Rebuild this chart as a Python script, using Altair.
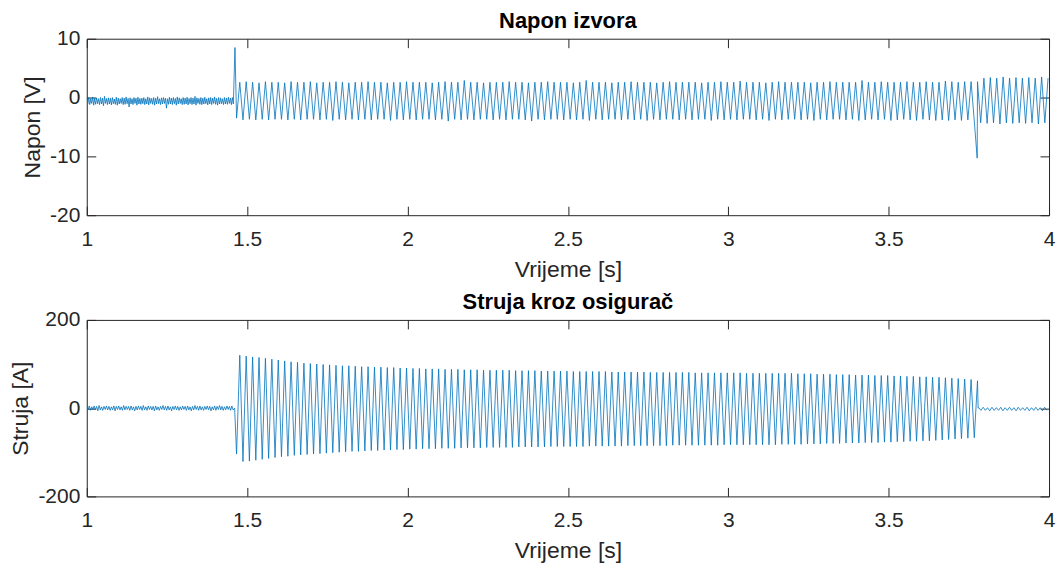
import altair as alt
import pandas as pd

# ---------------- values ----------------
T_START = 1.0
T_END = 4.0
T_ON = 1.462          # fault / switch-on instant
T_CUT = 3.777         # fuse interrupts
PERIOD = 0.02         # 50 Hz

# Source voltage: noise before T_ON (V), alternating high / low samples
v_noise_hi = [-0.1, 0.0, -0.2, 0.1, -0.15, -0.05, -0.2, 0.0, -0.1, 0.2, -0.15, -0.05, -0.1, 0.0, -0.25,
              0.05, -0.1, -0.2, 0.0, -0.1, 0.1, -0.15, -0.05, -0.2, 0.0, -0.1, 0.05, -0.15, -0.1, 0.0,
              -0.2, 0.1, -0.05, -0.15, 0.0, -0.1, 0.15, -0.2, -0.05, 0.0, -0.1, -0.2, 0.05, -0.1, 0.0,
              -0.15, 0.1, -0.05, -0.2, 0.0, -0.1, 0.05, -0.15, 0.0, -0.1, 0.2, -0.05, -0.15, 0.0, -0.1,
              0.05, -0.2, -0.05, 0.0, -0.1, 0.1, -0.15, 0.0, -0.05, -0.2, 0.0, -0.1, 0.05, -0.1, 0.0]
v_noise_lo = [-1.1, -1.2, -1.0, -1.3, -1.15, -1.05, -1.2, -1.1, -1.4, -1.0, -1.2, -1.1, -1.25, -1.05, -1.15,
              -1.3, -1.1, -1.0, -1.2, -1.15, -1.05, -1.6, -1.1, -1.2, -1.0, -1.3, -1.1, -1.15, -1.05, -1.2,
              -1.1, -1.25, -1.0, -1.15, -1.3, -1.1, -1.05, -1.2, -1.1, -1.0, -1.8, -1.15, -1.1, -1.2, -1.05,
              -1.3, -1.1, -1.0, -1.2, -1.15, -1.1, -1.25, -1.05, -1.2, -1.1, -1.3, -1.0, -1.15, -1.2, -1.1,
              -1.05, -1.25, -1.1, -1.2, -1.0, -1.15, -1.3, -1.1, -1.05, -1.2, -1.1, -1.15, -1.0, -1.2, -1.1]
v_spike_on = 8.5
v_spike_cut = -10.3

# Source voltage: per-cycle peaks and troughs (V)
v_peaks = [2.6, 2.7, 2.6, 2.5, 2.7, 2.6, 2.6, 2.5, 2.7, 2.6, 2.6, 2.7, 2.5, 2.6, 2.6, 2.7, 2.6, 2.5, 2.6, 2.6,
           2.7, 2.6, 2.6, 2.5, 2.6, 2.6, 2.7, 2.6, 2.6, 2.6, 2.5, 2.6, 2.7, 2.6, 2.6, 2.9, 2.6, 2.6, 2.5, 2.6,
           2.6, 2.6, 2.7, 2.6, 2.6, 2.5, 2.6, 2.6, 2.7, 2.6, 2.6, 2.6, 2.5, 2.6, 2.9, 2.6, 2.6, 2.6, 2.5, 2.6,
           2.6, 2.7, 2.6, 2.6, 2.6, 2.5, 2.6, 2.7, 2.6, 2.6, 2.6, 2.6, 2.5, 2.6, 2.6, 2.7, 2.6, 2.6, 2.8, 2.6,
           2.6, 2.6, 2.5, 2.6, 2.7, 2.6, 2.6, 2.6, 2.6, 2.5, 2.6, 2.6, 2.7, 2.6, 2.6, 2.6, 2.6, 2.9, 2.6, 2.6,
           2.7, 2.6, 2.6, 2.6, 2.7, 2.6, 2.6, 2.7, 2.6, 2.6, 2.8, 2.7, 2.6, 2.7, 2.7, 2.7,
           3.3, 3.4, 3.3, 3.5, 3.3, 3.4, 3.3, 3.4, 3.3, 3.5, 3.3]
v_troughs = [-3.5, -3.8, -3.7, -3.8, -3.7, -3.8, -3.7, -3.7, -3.8, -3.7, -3.8, -3.7, -3.7, -3.8, -3.7, -3.9, -3.7, -3.8, -3.7, -3.8,
             -3.7, -3.8, -3.7, -3.7, -3.9, -3.7, -3.8, -3.7, -3.8, -3.7, -3.7, -3.8, -3.7, -4.0, -3.7, -3.8, -3.7, -3.8, -3.7, -3.7,
             -3.8, -3.7, -3.8, -3.7, -3.7, -3.8, -4.0, -3.7, -3.8, -3.7, -3.7, -3.8, -3.7, -3.8, -3.7, -3.9, -3.7, -3.8, -3.7, -3.7,
             -3.8, -3.7, -3.8, -3.7, -3.9, -3.7, -3.8, -3.7, -3.7, -3.8, -3.7, -3.8, -3.7, -3.7, -3.9, -3.7, -3.8, -3.7, -3.8, -3.7,
             -3.7, -3.8, -3.7, -3.9, -3.7, -3.8, -3.7, -3.7, -3.8, -3.7, -3.9, -3.7, -3.8, -3.7, -3.7, -3.8, -3.7, -3.9, -3.8, -3.7,
             -3.8, -3.7, -3.9, -3.8, -3.7, -3.8, -3.9, -3.7, -3.8, -3.9, -3.8, -3.9, -3.8, -3.9, -3.8, -4.0,
             -4.3, -4.4, -4.3, -4.5, -4.3, -4.4, -4.3, -4.4, -4.3, -4.5, -4.3]

# Fuse current: noise before T_ON and ripple after T_CUT (A), alternating high / low samples
i_noise_hi = [4, 5, 3, 5, 4, 6, 3, 4, 5, 4, 3, 5, 4, 5, 3, 6, 4, 4, 5, 3, 4, 5, 4, 6, 3, 5, 4, 4, 5, 3,
              4, 6, 4, 5, 3, 4, 5, 4, 3, 5, 4, 5, 3, 4, 6, 4, 5, 3, 4, 5, 4, 3, 5, 4, 6, 4, 3, 5, 4, 5]
i_noise_lo = [-4, -5, -3, -4, -6, -4, -5, -3, -4, -5, -4, -6, -3, -4, -5, -4, -3, -5, -4, -6, -4, -3, -5, -4, -5, -3, -4, -6, -4, -5,
              -3, -4, -5, -4, -6, -3, -4, -5, -4, -3, -5, -4, -6, -4, -3, -5, -4, -5, -3, -4, -6, -4, -5, -3, -4, -5, -4, -3, -5, -4]
i_ripple = [1, -5, 2, -5, 1, -6, 2, -5, 1, -5, 2, -6, 1, -5, 2, -5, 1, -6, 2, -5, 1, -5, 2, -6, 1, -5, 2, -5,
            1, -6, 2, -5]

# Fuse current: per-cycle peaks and troughs (A)
i_peaks = [120, 118, 116, 115, 113, 111, 109, 107, 105, 104, 102, 101, 100, 99, 98, 97,
           96, 96, 95, 94, 94, 93, 93, 92, 92, 91, 91, 90, 90, 89, 89, 89, 88, 88, 88, 87, 87, 87, 86, 86, 86,
           86, 86, 85, 85, 85, 85, 84, 84, 84, 84, 84, 83, 83, 83, 83, 83, 83, 82, 82, 82, 82, 82, 82, 81, 81,
           81, 81, 81, 81, 81, 80, 80, 80, 80, 80, 80, 80, 80, 79, 79, 79, 79, 79, 79, 79, 79,
           78, 78, 78, 77, 77, 77, 76, 76, 76, 75, 75, 75, 74, 74, 74, 73, 73, 72, 72, 71, 71, 70, 70, 69,
           68, 67, 66, 65, 62]
i_troughs = [-104, -121, -120, -118, -116, -114, -112, -110, -109, -107, -106, -105, -104, -103, -102, -101,
             -100, -99, -98, -98, -97, -96, -96, -95, -95, -94, -94, -93, -93, -92, -92, -92, -91, -91, -91, -90,
             -90, -90, -90, -89, -89,
             -89, -89, -89, -88, -88, -88, -88, -88, -87, -87, -87, -87, -87, -87, -86, -86, -86, -86, -86, -86,
             -85, -85, -85, -85, -85, -85, -85, -84, -84, -84, -84, -84, -84, -84, -84, -83, -83, -83, -83, -83,
             -83, -83, -83, -83, -82, -82,
             -82, -82, -81, -81, -81, -80, -80, -80, -79, -79, -79, -78, -78, -78, -77, -77, -76, -76, -75, -75,
             -74, -74, -73, -72, -71, -70, -69, -68, -67]


# ---------------- build tables ----------------
def interleave(a, b):
    out = []
    for x, y in zip(a, b):
        out += [x, y]
    return out


def sampled(t0, t1, values):
    dt = (t1 - t0) / len(values)
    return [(t0 + i * dt, v) for i, v in enumerate(values)]


def cycles(t0, lows, highs):
    rows = []
    for k, (lo, hi) in enumerate(zip(lows, highs)):
        rows.append((t0 + PERIOD * k + PERIOD * 0.25, lo))
        rows.append((t0 + PERIOD * k + PERIOD * 0.75, hi))
    return rows


v_rows = sampled(T_START, T_ON - 0.002, interleave(v_noise_hi, v_noise_lo))
v_rows.append((T_ON, v_spike_on))
v_rows += cycles(T_ON, v_troughs, v_peaks)
v_rows.append((T_CUT - 0.001, v_spike_cut))
v_rows.sort(key=lambda r: r[0])
volt = pd.DataFrame(v_rows, columns=["t", "v"])

i_rows = sampled(T_START, T_ON - 0.002, interleave(i_noise_hi, i_noise_lo))
i_rows.append((T_ON - 0.001, 0))
i_rows += cycles(T_ON, i_troughs, i_peaks)
i_rows.append((T_CUT + 0.002, 0))
i_rows += sampled(T_CUT + 0.004, T_END, i_ripple)
i_rows.sort(key=lambda r: r[0])
curr = pd.DataFrame(i_rows, columns=["t", "v"])

# ---------------- styling ----------------
FONT = "Liberation Sans"
INK = "#262626"
BLUE = "#0072BD"
TICK = 9
W, H = 965, 177

x_ticks = [1, 1.5, 2, 2.5, 3, 3.5, 4]


def panel(df, title, ytitle, ydomain, yticks):
    xs = alt.Scale(domain=[T_START, T_END], nice=False, zero=False)
    ys = alt.Scale(domain=ydomain, nice=False, zero=False)
    common = dict(offset=-TICK, domain=False, tickSize=TICK, tickColor=INK, tickWidth=1,
                  grid=False, labelFont=FONT, labelFontSize=21, labelColor=INK, labelFlush=False,
                  labelOverlap=False,
                  titleFont=FONT, titleFontSize=23, titleFontWeight="normal", titleColor=INK)
    main = alt.Chart(df).mark_line(color=BLUE, strokeWidth=0.8, clip=True).encode(
        x=alt.X("t:Q", scale=xs,
                axis=alt.Axis(orient="bottom", values=x_ticks, labelExpr="datum.value + ''",
                              title="Vrijeme [s]", labelPadding=13, titlePadding=9, **common)),
        y=alt.Y("v:Q", scale=ys,
                axis=alt.Axis(orient="left", values=yticks, labelExpr="datum.value + ''",
                              title=ytitle, labelPadding=7, titlePadding=5, **common)),
    )
    mirror = alt.Chart(df).mark_line(strokeOpacity=0).encode(
        x=alt.X("t:Q", scale=xs,
                axis=alt.Axis(orient="top", values=x_ticks, labels=False, title=None,
                              minExtent=0, maxExtent=0, **common)),
        y=alt.Y("v:Q", scale=ys,
                axis=alt.Axis(orient="right", values=yticks, labels=False, title=None,
                              minExtent=0, maxExtent=0, **common)),
    )
    return alt.layer(main, mirror).resolve_axis(x="independent", y="independent").properties(
        width=W, height=H,
        title=alt.TitleParams(title, font=FONT, fontSize=22, fontWeight="bold", color="#000000", offset=-5),
    )


top = panel(volt, "Napon izvora", "Napon [V]", [-20, 10], [-20, -10, 0, 10])
bottom = panel(curr, "Struja kroz osigurač", "Struja [A]", [-200, 200], [-200, 0, 200])

chart = alt.vconcat(top, bottom, spacing=8).properties(
    padding={"left": 1, "top": 0, "right": 0, "bottom": 0},
    background="white",
).configure_view(stroke=INK, strokeWidth=1)

chart.save("out.html", embed_options={"renderer": "svg", "actions": False})
